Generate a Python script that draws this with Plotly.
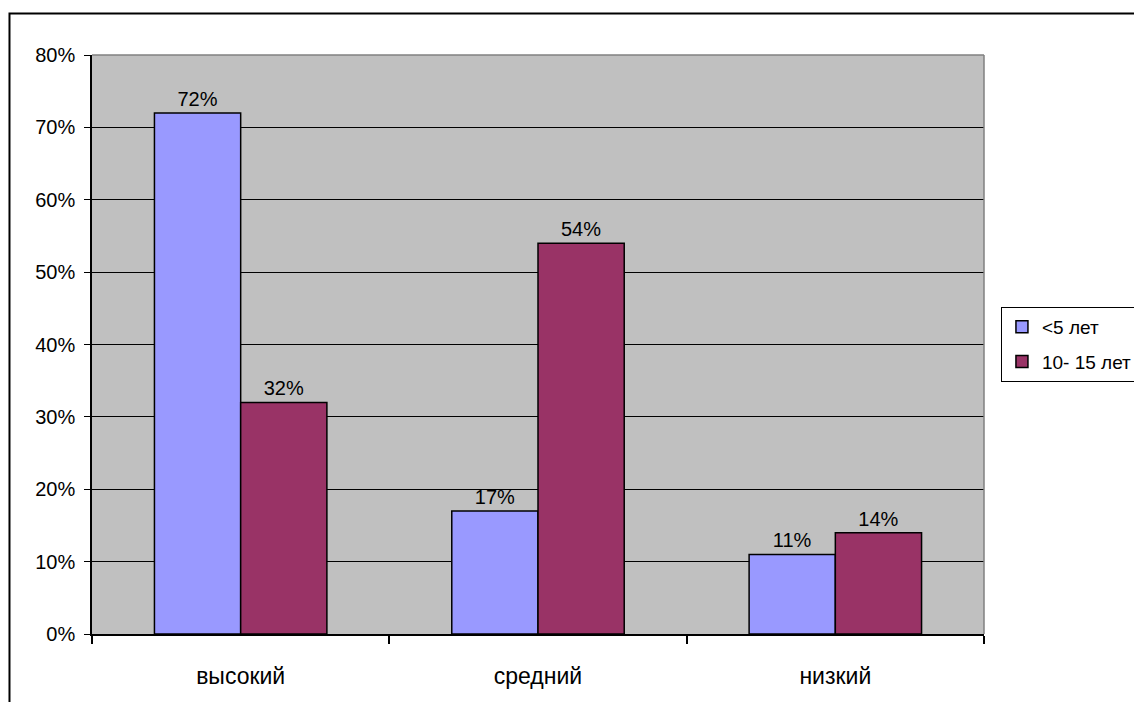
import plotly.graph_objects as go

categories = ["высокий", "средний", "низкий"]
series_names = ["<5 лет", "10- 15 лет"]
values_lt5 = [72, 17, 11]
values_10_15 = [32, 54, 14]
y_tick_vals = [0, 10, 20, 30, 40, 50, 60, 70, 80]
y_tick_text = ["0%", "10%", "20%", "30%", "40%", "50%", "60%", "70%", "80%"]

colors = ["#9999FF", "#993366"]
FONT = "Liberation Sans, Arial, sans-serif"

fig = go.Figure()
for name, vals, col in zip(series_names, [values_lt5, values_10_15], colors):
    fig.add_trace(go.Bar(
        x=categories, y=vals, name=name, legendgroup=name,
        marker=dict(color=col, line=dict(color="black", width=1.5)),
        text=[f"{v}%" for v in vals], textposition="outside",
        textfont=dict(size=20, color="black", family=FONT),
        cliponaxis=False,
    ))

fig.update_layout(
    width=1134, height=702,
    margin=dict(l=92, r=150, t=55, b=68, autoexpand=False),
    paper_bgcolor="white", plot_bgcolor="#C0C0C0",
    barmode="group", bargap=0.42, bargroupgap=0,
    font=dict(family=FONT, size=20, color="black"),
    showlegend=True,
    legend=dict(x=1.019, y=0.5648, xanchor="left", yanchor="top",
                bordercolor="black", borderwidth=1, bgcolor="white",
                traceorder="grouped", tracegroupgap=7,
                font=dict(size=19, family=FONT)),
    xaxis=dict(type="category", tickson="boundaries", ticks="outside", ticklen=8,
               tickcolor="black", tickwidth=2, showgrid=False,
               showline=True, linecolor="black", linewidth=2,
               ticklabelstandoff=20, tickfont=dict(size=23, family=FONT)),
    yaxis=dict(range=[0, 80], tickvals=y_tick_vals, ticktext=y_tick_text,
               ticks="outside", ticklen=6, tickcolor="black",
               showgrid=True, gridcolor="black", gridwidth=1,
               showline=True, linecolor="black", linewidth=1.5,
               zeroline=False, ticklabelstandoff=5,
               tickfont=dict(size=20, family=FONT)),
    shapes=[
        dict(type="line", xref="paper", yref="paper", x0=0, x1=1, y0=1, y1=1,
             line=dict(color="#808080", width=1.5), layer="above"),
        dict(type="line", xref="paper", yref="paper", x0=1, x1=1, y0=0, y1=1,
             line=dict(color="#808080", width=1.5), layer="above"),
        dict(type="rect", xref="paper", yref="paper", x0=-0.0925, x1=1.4, y0=-0.3, y1=1.0717,
             line=dict(color="black", width=2), layer="below"),
    ],
)

fig.write_html("out.html")
